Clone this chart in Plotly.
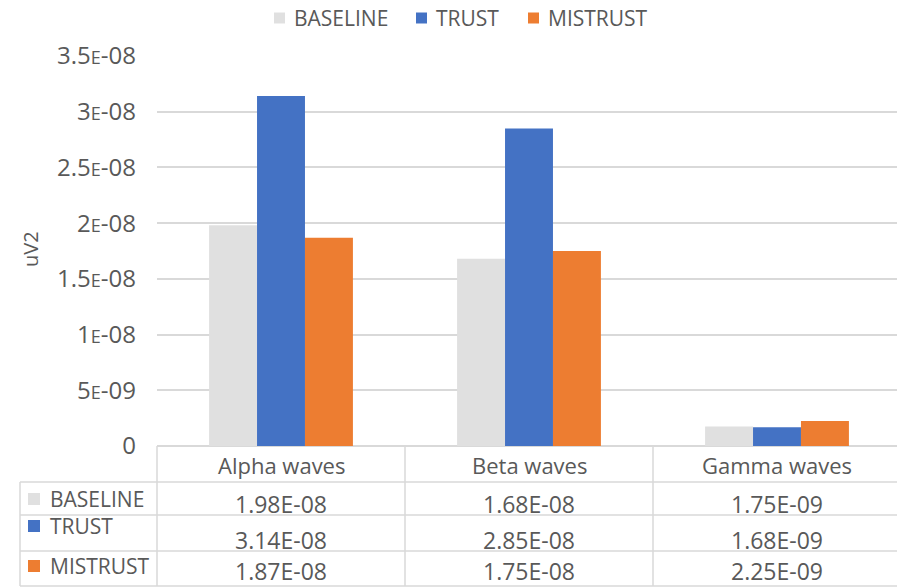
import plotly.graph_objects as go

# EEG band power per condition
categories = ["Alpha waves", "Beta waves", "Gamma waves"]
baseline = [1.98e-08, 1.68e-08, 1.75e-09]
trust = [3.14e-08, 2.85e-08, 1.68e-09]
mistrust = [1.87e-08, 1.75e-08, 2.25e-09]

series_names = ["BASELINE", "TRUST", "MISTRUST"]
series_values = [baseline, trust, mistrust]
series_colors = ["#E0E0E0", "#4472C4", "#ED7D31"]

tick_vals = [0, 5e-09, 1e-08, 1.5e-08, 2e-08, 2.5e-08, 3e-08, 3.5e-08]

W, H = 897, 587
L, T, B = 157, 56, 141
PW, PH = W - L, H - T - B
CAT_W = 248  # pixel width of one category column

TEXT = "#595959"
GRID = "#D9D9D9"
FONT = "Open Sans"


def px(x):
    return (x - L) / PW


def py(y):
    return (H - B - y) / PH


def sci_label(v):
    # Excel-style scientific label with a small-cap "E"
    if v == 0:
        return "0"
    s = "%.1E" % v
    mant, exp = s.split("E")
    mant = mant.rstrip("0").rstrip(".")
    return mant + "<span style='font-size:18px'>E</span>" + exp


def table_label(v):
    return "%.2E" % v


def text_note(x, y, text, size, anchor="center", angle=0):
    return dict(xref="paper", yref="paper", x=px(x), y=py(y), text=text,
                xanchor=anchor, yanchor="middle", textangle=angle,
                showarrow=False, font=dict(family=FONT, size=size, color=TEXT))


fig = go.Figure()
for name, vals, col in zip(series_names, series_values, series_colors):
    fig.add_trace(go.Bar(x=list(range(len(categories))), y=vals, name=name,
                         marker=dict(color=col, line=dict(width=0))))

shapes = []
annotations = []
line = dict(color=GRID, width=1.5)


def key_square(x, y, col, size=11):
    return dict(type="rect", xref="paper", yref="paper",
                x0=px(x), x1=px(x + size), y0=py(y - size / 2), y1=py(y + size / 2),
                fillcolor=col, line=dict(width=0))


# legend across the top
legend_x = [274, 416, 528]
for name, col, lx in zip(series_names, series_colors, legend_x):
    shapes.append(key_square(lx, 18, col))
    annotations.append(text_note(lx + 18, 18, name, 21, anchor="left"))

# data table grid
row_lines = [482, 515, 551, 586]
for y in row_lines:
    shapes.append(dict(type="line", xref="paper", yref="paper",
                       x0=px(20), x1=1, y0=py(y), y1=py(y), line=line))
shapes.append(dict(type="line", xref="paper", yref="paper",
                   x0=px(20), x1=px(20), y0=py(482), y1=py(586), line=line))
for i in range(len(categories)):
    xb = L + i * CAT_W
    shapes.append(dict(type="line", xref="paper", yref="paper",
                       x0=px(xb), x1=px(xb), y0=py(446), y1=py(586), line=line))

# column headers
for i, c in enumerate(categories):
    annotations.append(text_note(L + (i + 0.5) * CAT_W, 465, c, 22))

# row keys, labels and values
label_y = [499, 526, 566]
value_y = [504, 540, 571]
for r, (name, vals, col) in enumerate(zip(series_names, series_values, series_colors)):
    shapes.append(key_square(28, label_y[r], col, size=12))
    annotations.append(text_note(48, label_y[r], name, 21, anchor="left"))
    for i, v in enumerate(vals):
        annotations.append(text_note(L + (i + 0.5) * CAT_W, value_y[r],
                                     table_label(v), 23))

# y axis title
annotations.append(text_note(30, 249, "uV2", 20, angle=-90))

fig.update_layout(
    width=W, height=H,
    margin=dict(l=L, r=0, t=T, b=B, pad=0),
    paper_bgcolor="white", plot_bgcolor="white",
    barmode="group", bargap=0.42, bargroupgap=0,
    font=dict(family=FONT, size=18, color=TEXT),
    showlegend=False,
    xaxis=dict(range=[-0.5, -0.5 + PW / CAT_W], showticklabels=False,
               showgrid=False, zeroline=False, showline=False, fixedrange=True),
    yaxis=dict(range=[0, 3.5e-08], tickvals=tick_vals,
               ticktext=[sci_label(v) for v in tick_vals],
               showgrid=True, gridcolor=GRID, gridwidth=1.5,
               zeroline=True, zerolinecolor=GRID, zerolinewidth=1.5,
               showline=False, ticks="", ticklabelstandoff=20,
               tickfont=dict(family=FONT, size=24, color=TEXT)),
    shapes=shapes,
    annotations=annotations,
)

fig.write_html("out.html")
